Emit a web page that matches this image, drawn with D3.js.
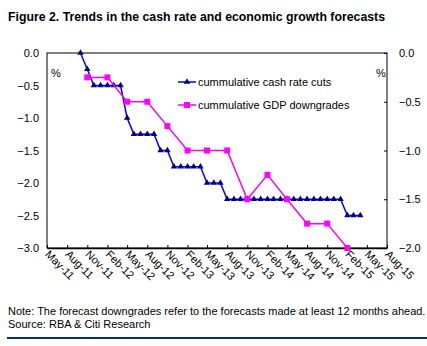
<!DOCTYPE html>
<html><head><meta charset="utf-8">
<script src="https://cdn.jsdelivr.net/npm/d3@7"></script>
<style>body{margin:0;background:#fff}svg{display:block}text{font-family:"Liberation Sans",Arial,sans-serif;fill:#000}</style>
</head><body><svg id="c" width="427" height="346"></svg>
<script>
// ---- data ----
const cashMonths = ["2011-10","2011-11","2011-12","2012-01","2012-02","2012-03","2012-04","2012-05","2012-06","2012-07","2012-08","2012-09","2012-10","2012-11","2012-12","2013-01","2013-02","2013-03","2013-04","2013-05","2013-06","2013-07","2013-08","2013-09","2013-10","2013-11","2013-12","2014-01","2014-02","2014-03","2014-04","2014-05","2014-06","2014-07","2014-08","2014-09","2014-10","2014-11","2014-12","2015-01","2015-02","2015-03","2015-04"];
const cashCuts = [0,-0.25,-0.5,-0.5,-0.5,-0.5,-0.5,-1.0,-1.25,-1.25,-1.25,-1.25,-1.5,-1.5,-1.75,-1.75,-1.75,-1.75,-1.75,-2.0,-2.0,-2.0,-2.25,-2.25,-2.25,-2.25,-2.25,-2.25,-2.25,-2.25,-2.25,-2.25,-2.25,-2.25,-2.25,-2.25,-2.25,-2.25,-2.25,-2.25,-2.5,-2.5,-2.5];
const gdpMonths = ["2011-11","2012-02","2012-05","2012-08","2012-11","2013-02","2013-05","2013-08","2013-11","2014-02","2014-05","2014-08","2014-11","2015-02"];
const gdpDowngrades = [-0.25,-0.25,-0.5,-0.5,-0.75,-1.0,-1.0,-1.0,-1.5,-1.25,-1.5,-1.75,-1.75,-2.0];
const xTickLabels = ["May-11","Aug-11","Nov-11","Feb-12","May-12","Aug-12","Nov-12","Feb-13","May-13","Aug-13","Nov-13","Feb-14","May-14","Aug-14","Nov-14","Feb-15","May-15","Aug-15"];
const leftTicks = [0,-0.5,-1.0,-1.5,-2.0,-2.5,-3.0];
const rightTicks = [0,-0.5,-1.0,-1.5,-2.0];
const seriesNames = ["cummulative cash rate cuts","cummulative GDP downgrades"];
const titleText = "Figure 2. Trends in the cash rate and economic growth forecasts";
const noteText = "Note: The forecast downgrades refer to the forecasts made at least 12 months ahead.";
const sourceText = "Source: RBA & Citi Research";

// ---- drawing ----
const parse = d3.timeParse("%Y-%m");
const parseTick = d3.timeParse("%b-%y");
const svg = d3.select("#c");
const L = 47, R = 387, T = 53, B = 248;
const x = d3.scaleTime().domain([parseTick(xTickLabels[0]), parseTick(xTickLabels[xTickLabels.length - 1])]).range([L, R]);
const yL = d3.scaleLinear().domain([-3, 0]).range([B, T]);
const yR = d3.scaleLinear().domain([-2, 0]).range([B, T]);
const FONT = '"Liberation Sans",Arial,sans-serif';

svg.append("text").attr("x", 8).attr("y", 21).attr("font-size", 13.5).attr("font-weight", "bold")
  .attr("textLength", 377).attr("lengthAdjust", "spacingAndGlyphs").text(titleText);

// frame
svg.append("rect").attr("x", L).attr("y", T).attr("width", R - L).attr("height", B - T)
  .attr("fill", "none").attr("stroke", "#000").attr("stroke-width", 1);

// left axis
const gl = svg.append("g").attr("transform", `translate(${L},0)`)
  .call(d3.axisLeft(yL).tickValues(leftTicks).tickFormat(d3.format(".1f")).tickSize(0).tickPadding(8));
gl.select(".domain").remove();
gl.selectAll("text").attr("font-size", 11).style("font-family", FONT).attr("fill", "#000");

// right axis
const gr = svg.append("g").attr("transform", `translate(${R},0)`)
  .call(d3.axisRight(yR).tickValues(rightTicks).tickFormat(d3.format(".1f")).tickSize(0).tickPadding(12));
gr.select(".domain").remove();
gr.selectAll("text").attr("font-size", 11).style("font-family", FONT).attr("fill", "#000");
gr.selectAll(".tick").append("line").attr("x1", 0).attr("x2", -3).attr("stroke", "#000");

// bottom axis
const xTicks = xTickLabels.map(s => parseTick(s));
const gb = svg.append("g").attr("transform", `translate(0,${B})`)
  .call(d3.axisBottom(x).tickValues(xTicks).tickFormat(d3.timeFormat("%b-%y")).tickSizeInner(-3).tickSizeOuter(0).tickPadding(6));
gb.select(".domain").attr("stroke-width", 1.5);
gb.selectAll("text").attr("font-size", 11).style("font-family", FONT).attr("fill", "#000")
  .attr("text-anchor", "start").attr("dy", 0).attr("y", 0)
  .attr("transform", "translate(-3,7) rotate(45)");

// % labels
svg.append("text").attr("x", 51).attr("y", 77).attr("font-size", 11).text("%");
svg.append("text").attr("x", 376).attr("y", 77).attr("font-size", 11).text("%");

// cash series
const cash = cashMonths.map((m, i) => ({d: parse(m), v: cashCuts[i]}));
svg.append("path").datum(cash).attr("fill", "none").attr("stroke", "#0000ff").attr("stroke-width", 1.5)
  .attr("d", d3.line().x(d => x(d.d)).y(d => yL(d.v)));
const tri = d3.symbol().type(d3.symbolTriangle).size(18);
svg.append("g").selectAll("path").data(cash).join("path")
  .attr("d", tri).attr("fill", "#000080")
  .attr("transform", d => `translate(${x(d.d)},${yL(d.v)})`);

// gdp series
const gdp = gdpMonths.map((m, i) => ({d: parse(m), v: gdpDowngrades[i]}));
svg.append("path").datum(gdp).attr("fill", "none").attr("stroke", "#ff00ff").attr("stroke-width", 1.5)
  .attr("d", d3.line().x(d => x(d.d)).y(d => yR(d.v)));
svg.append("g").selectAll("rect").data(gdp).join("rect")
  .attr("x", d => x(d.d) - 3).attr("y", d => yR(d.v) - 3).attr("width", 6).attr("height", 6).attr("fill", "#ff00ff");

// legend
const lg = svg.append("g");
lg.append("line").attr("x1", 178).attr("x2", 196).attr("y1", 82).attr("y2", 82).attr("stroke", "#0000ff").attr("stroke-width", 1.5);
lg.append("path").attr("d", tri).attr("fill", "#000080").attr("transform", "translate(187,82)");
lg.append("text").attr("x", 198).attr("y", 86).attr("font-size", 11).text(seriesNames[0]);
lg.append("line").attr("x1", 178).attr("x2", 196).attr("y1", 105).attr("y2", 105).attr("stroke", "#ff00ff").attr("stroke-width", 1.5);
lg.append("rect").attr("x", 184).attr("y", 102).attr("width", 6).attr("height", 6).attr("fill", "#ff00ff");
lg.append("text").attr("x", 198).attr("y", 109).attr("font-size", 11).text(seriesNames[1]);

// footnotes
svg.append("text").attr("x", 8).attr("y", 315).attr("font-size", 11).text(noteText);
svg.append("text").attr("x", 8).attr("y", 328).attr("font-size", 11).text(sourceText);
svg.append("rect").attr("x", 7).attr("y", 337).attr("width", 420).attr("height", 2).attr("fill", "#0b2d6b");
</script></body></html>
